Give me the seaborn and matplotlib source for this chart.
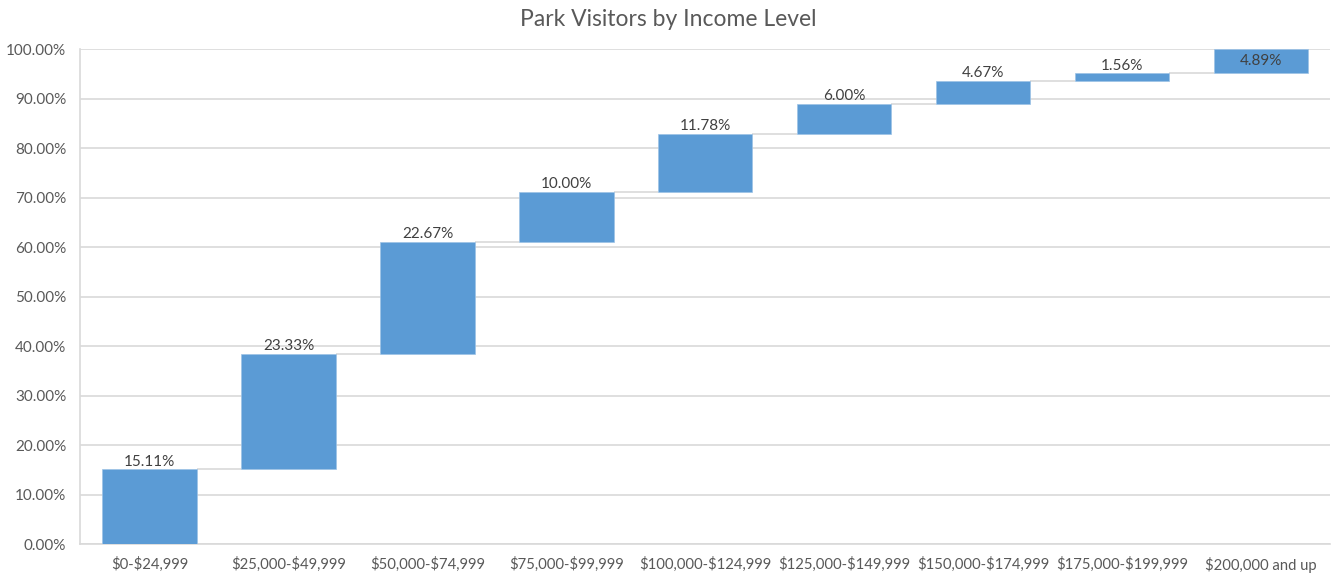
import matplotlib
matplotlib.use("Agg")
import matplotlib.pyplot as plt
import seaborn as sns
import numpy as np
import pandas as pd
from matplotlib.ticker import FuncFormatter, MultipleLocator

categories = ["$0-$24,999", "$25,000-$49,999", "$50,000-$74,999", "$75,000-$99,999",
              "$100,000-$124,999", "$125,000-$149,999", "$150,000-$174,999",
              "$175,000-$199,999", "$200,000 and up"]
values = [15.11, 23.33, 22.67, 10.00, 11.78, 6.00, 4.67, 1.56, 4.89]
title = "Park Visitors by Income Level"

sns.set_theme(style="white")
plt.rcParams['font.family'] = ['Lato', 'DejaVu Sans']
plt.rcParams['text.parse_math'] = False

vals = np.array(values)
ends = np.cumsum(vals)
ends[-1] = min(ends[-1], 100.0)
starts = ends - vals

df = pd.DataFrame({"cat": categories, "val": vals, "start": starts})

fig = plt.figure(figsize=(13.37, 5.77), dpi=100)
ax = fig.add_axes([0.06, 0.057, 0.935, 0.858])

blue = "#5B9BD5"
grid = "#D9D9D9"
txt = "#595959"

ax.yaxis.grid(True, color=grid, linewidth=1.2, zorder=0)
ax.set_axisbelow(True)

sns.barplot(data=df, x="cat", y="val", bottom=df["start"], color=blue,
            saturation=1, width=0.68, ax=ax, zorder=3, edgecolor="#9DC3E6", linewidth=0.5)

patches = ax.patches
# connectors
for i in range(len(patches) - 1):
    p, q = patches[i], patches[i + 1]
    y = ends[i]
    ax.hlines(y, p.get_x() + p.get_width(), q.get_x(), color=grid, linewidth=1.2, zorder=2)

for i, p in enumerate(patches):
    cx = p.get_x() + p.get_width() / 2
    lab = f"{vals[i]:.2f}%"
    if i == len(patches) - 1:
        ax.annotate(lab, (cx, ends[i]), xytext=(0, -3.5), textcoords="offset points",
                    ha="center", va="top", fontsize=11, color="#404040", zorder=5)
    else:
        ax.annotate(lab, (cx, ends[i]), xytext=(0, 0.5), textcoords="offset points",
                    ha="center", va="bottom", fontsize=11, color="#404040", zorder=5)

ax.set_ylim(0, 100)
ax.set_xlim(-0.5, len(categories) - 0.5)
ax.yaxis.set_major_locator(MultipleLocator(10))
ax.yaxis.set_major_formatter(FuncFormatter(lambda v, _: f"{v:.2f}%"))
ax.set_xlabel("")
ax.set_ylabel("")
for s in ["top", "right"]:
    ax.spines[s].set_visible(False)
ax.spines["left"].set_color(grid)
ax.spines["bottom"].set_color(grid)
ax.spines["left"].set_linewidth(1.2)
ax.spines["bottom"].set_linewidth(1.2)
ax.tick_params(axis="x", length=0, labelsize=10.7, colors=txt, pad=9)
ax.tick_params(axis="y", length=0, labelsize=11, colors=txt, pad=10)

fig.suptitle(title, y=0.985, fontsize=16.5, color=txt)

fig.savefig("out.png", dpi=100)
